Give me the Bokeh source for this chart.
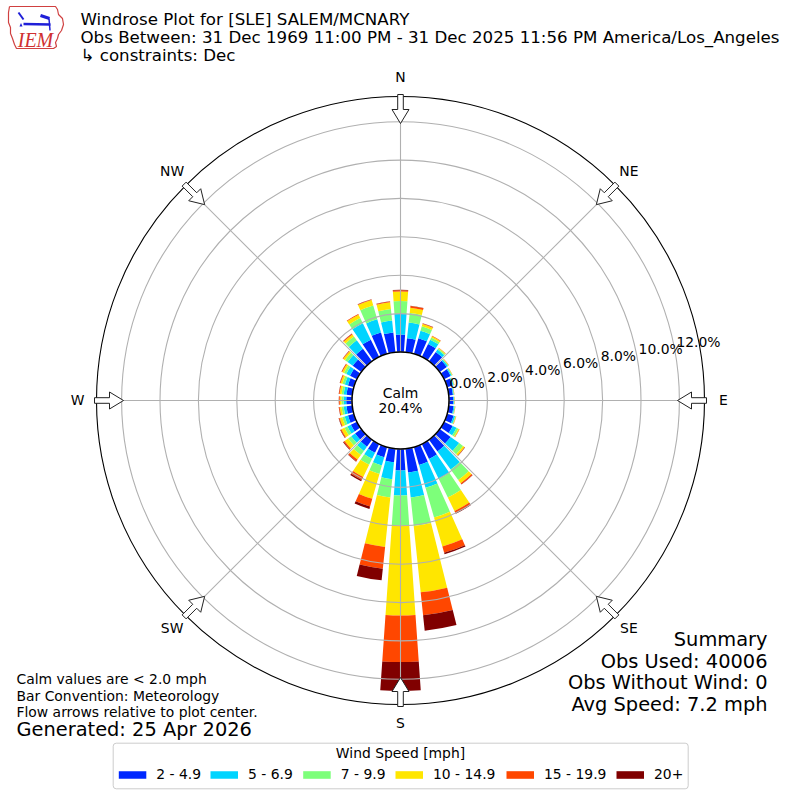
import numpy as np
from bokeh.plotting import figure
from bokeh.models import Range1d, ColumnDataSource
from bokeh.core.properties import value
from bokeh.embed import file_html
from bokeh.resources import INLINE

# ---------------- data ----------------
directions = list(range(0, 360, 10))
bin_labels = ["2 - 4.9", "5 - 6.9", "7 - 9.9", "10 - 14.9", "15 - 19.9", "20+"]
bin_colors = ["#0028ff", "#00d4ff", "#7dff7a", "#ffe600", "#ff4700", "#800000"]

# percent of observations per direction, per speed bin
spd_2_5 = [0.91, 0.73, 0.85, 0.75, 0.60, 0.45, 0.38, 0.30, 0.22, 0.22, 0.25, 0.35,
           0.50, 0.70, 0.75, 0.86, 0.97, 1.24, 1.12, 0.71, 0.55, 0.50, 0.45, 0.40,
           0.35, 0.32, 0.30, 0.30, 0.30, 0.32, 0.40, 0.55, 0.80, 1.00, 1.16, 1.04]
spd_5_7 = [1.08, 0.83, 0.40, 0.25, 0.15, 0.08, 0.06, 0.05, 0.04, 0.04, 0.05, 0.08,
           0.22, 0.55, 1.17, 1.16, 1.23, 1.31, 1.30, 0.89, 0.45, 0.35, 0.27, 0.25,
           0.20, 0.18, 0.15, 0.14, 0.15, 0.17, 0.22, 0.33, 0.55, 0.95, 0.71, 0.62]
spd_7_10 = [0.66, 0.50, 0.25, 0.12, 0.07, 0.04, 0.03, 0.03, 0.02, 0.02, 0.03, 0.04,
            0.11, 0.25, 0.67, 1.08, 1.61, 1.50, 1.56, 0.95, 0.45, 0.35, 0.26, 0.20,
            0.17, 0.13, 0.11, 0.11, 0.11, 0.13, 0.13, 0.17, 0.25, 0.30, 0.75, 0.60]
spd_10_15 = [0.50, 0.27, 0.12, 0.08, 0.04, 0.02, 0.02, 0.01, 0.01, 0.01, 0.01, 0.02,
             0.05, 0.10, 0.21, 0.78, 1.57, 3.47, 4.69, 2.59, 1.35, 0.70, 0.30, 0.22,
             0.18, 0.14, 0.10, 0.09, 0.10, 0.10, 0.10, 0.11, 0.13, 0.20, 0.30, 0.36]
spd_15_20 = [0.07, 0.09, 0.03, 0.02, 0.01, 0.01, 0.01, 0.01, 0.01, 0.01, 0.01, 0.01,
             0.02, 0.02, 0.07, 0.12, 0.34, 1.20, 2.43, 1.14, 0.42, 0.18, 0.10, 0.07,
             0.05, 0.04, 0.04, 0.04, 0.04, 0.04, 0.04, 0.03, 0.04, 0.03, 0.03, 0.04]
spd_20_up = [0.02, 0.02, 0.01, 0.01, 0.00, 0.00, 0.00, 0.00, 0.00, 0.00, 0.00, 0.00,
             0.00, 0.01, 0.01, 0.04, 0.08, 0.81, 1.50, 0.61, 0.13, 0.07, 0.03, 0.03,
             0.02, 0.02, 0.01, 0.01, 0.01, 0.01, 0.01, 0.01, 0.01, 0.01, 0.01, 0.01]
speed_bins = [spd_2_5, spd_5_7, spd_7_10, spd_10_15, spd_15_20, spd_20_up]

calm_pct = 20.4
ring_ticks = [0, 2, 4, 6, 8, 10, 12]
compass_names = ["N", "NE", "E", "SE", "S", "SW", "W", "NW"]
compass_deg = [0, 45, 90, 135, 180, 225, 270, 315]

title_lines = ["Windrose Plot for [SLE] SALEM/MCNARY",
               "Obs Between: 31 Dec 1969 11:00 PM - 31 Dec 2025 11:56 PM America/Los_Angeles",
               " \u21b3 constraints: Dec"]
summary_lines = ["Summary", "Obs Used: 40006", "Obs Without Wind: 0", "Avg Speed: 7.2 mph"]
note_lines = ["Calm values are < 2.0 mph", "Bar Convention: Meteorology",
              "Flow arrows relative to plot center."]
generated = "Generated: 25 Apr 2026"
legend_title = "Wind Speed [mph]"

# ---------------- layout ----------------
S = 19.2            # pixels per percent
R0 = 48.5 / S       # calm circle radius (data units)
ROUT = 304.0 / S    # outer circle
W = 792
FONT = value("DejaVu Sans")


def X(px):
    return (px - 400.0) / S


def Y(py):
    return (400.0 - py) / S


p = figure(width=W, height=W, x_range=Range1d(X(0), X(W)), y_range=Range1d(Y(W), Y(0)),
           x_axis_type=None, y_axis_type=None, output_backend="svg",
           toolbar_location=None, min_border=0, title=None)
p.grid.visible = False
p.outline_line_color = None
p.background_fill_color = "white"
p.border_fill_color = "white"

# ---------------- bars ----------------
theta = np.radians(np.array(directions, dtype=float))
half = np.radians(4.0)
mangle = np.pi / 2 - theta
cum = np.zeros(len(directions))
for vals, col in zip(speed_bins, bin_colors):
    v = np.array(vals, dtype=float)
    src = ColumnDataSource(dict(
        x=np.zeros(len(v)), y=np.zeros(len(v)),
        inner=R0 + cum, outer=R0 + cum + v,
        start=mangle - half, end=mangle + half))
    p.annular_wedge(x="x", y="y", inner_radius="inner", outer_radius="outer",
                    start_angle="start", end_angle="end", source=src,
                    fill_color=col, line_color=None)
    cum = cum + v

# ---------------- grid ----------------
grid_col = "#b0b0b0"
p.circle(x=[0] * len(ring_ticks), y=[0] * len(ring_ticks),
         radius=[R0 + t for t in ring_ticks], fill_color=None,
         line_color=grid_col, line_width=1.1)
ga = np.radians(np.array(compass_deg, dtype=float))
p.segment(x0=R0 * np.sin(ga), y0=R0 * np.cos(ga), x1=ROUT * np.sin(ga),
          y1=ROUT * np.cos(ga), line_color=grid_col, line_width=1.1)

# outer circle & calm circle
p.circle(x=[0], y=[0], radius=[ROUT], fill_color=None, line_color="black", line_width=1.1)
p.circle(x=[0], y=[0], radius=[R0], fill_color="white", line_color="black", line_width=1.5)

# ---------------- arrows ----------------
r_tip, r_base, r_tail = 277.0 / S, 291.0 / S, 306.0 / S
hw, sw = 8.5 / S, 2.8 / S
axs, ays = [], []
for d in compass_deg:
    t = np.radians(d)
    ux, uy = np.sin(t), np.cos(t)
    vx, vy = np.cos(t), -np.sin(t)
    pts = [(r_tip, 0), (r_base, hw), (r_base, sw), (r_tail, sw),
           (r_tail, -sw), (r_base, -sw), (r_base, -hw)]
    axs.append([a * ux + b * vx for a, b in pts])
    ays.append([a * uy + b * vy for a, b in pts])
p.patches(xs=axs, ys=ays, fill_color="white", line_color="#222222", line_width=1)

# ---------------- labels ----------------
def txt(xs, ys, texts, size, align, font=FONT, **kw):
    p.text(x=xs, y=ys, text=texts, text_font=font, text_font_size=size,
           text_align=align, text_baseline="middle", text_color=kw.pop("color", "black"), **kw)


rl = 323.0 / S
txt([rl * np.sin(np.radians(d)) for d in compass_deg],
    [rl * np.cos(np.radians(d)) + 1.0 / S for d in compass_deg],
    compass_names, "13.9px", "center")

ring_r = [48.5 + S * t for t in ring_ticks]
txt([(0.985 * r + 1.2) / S for r in ring_r], [(0.178 * r + 8.4) / S for r in ring_r],
    ["%.1f%%" % t for t in ring_ticks], "13.9px", "left")

txt([0, 0], [Y(392), Y(407)], ["Calm", "%.1f%%" % calm_pct], "13.9px", "center")

# title
txt([X(80)] * 3, [Y(18.5), Y(36.5), Y(54.5)], title_lines, "16.67px", "left")

# summary
txt([X(767)] * 4, [Y(639), Y(660.5), Y(682), Y(704)], summary_lines, "19.4px", "right")

# notes
txt([X(16)] * 3, [Y(678.5), Y(695), Y(711.5)], note_lines, "13.9px", "left")
txt([X(16)], [Y(729)], [generated], "19.4px", "left")

# ---------------- legend ----------------
p.quad(left=[X(112.7)], right=[X(687.7)], top=[Y(742.7)], bottom=[Y(788.3)],
       fill_color="white", line_color="#cccccc", line_width=1, border_radius=3)
txt([0], [Y(752.5)], [legend_title], "13.9px", "center")
patch_left = [118.3, 210.0, 302.7, 395.0, 506.0, 616.0]
p.quad(left=[X(a) for a in patch_left], right=[X(a + 27.5) for a in patch_left],
       top=[Y(770.7)] * 6, bottom=[Y(778.3)] * 6, fill_color=bin_colors,
       line_color=None)
txt([X(a + 37.5) for a in patch_left], [Y(773)] * 6, bin_labels, "13.9px", "left")

# ---------------- logo ----------------
iowa_x = [9, 55, 57, 58, 62, 63, 61, 58, 57, 55, 56, 53, 16, 14, 12, 10, 10, 8, 8, 9]
iowa_y = [6, 6, 9, 14, 18, 24, 30, 34, 38, 42, 46, 48, 48, 44, 38, 33, 27, 22, 12, 6]
p.line(x=[X(a) for a in iowa_x], y=[Y(b) for b in iowa_y],
       line_color="#d04040", line_width=1.2)
p.multi_line(xs=[[X(18), X(23)], [X(23), X(50)], [X(40), X(49)], [X(48.5), X(49.5)]],
             ys=[[Y(12), Y(19)], [Y(23.5), Y(24)], [Y(15), Y(18)], [Y(18), Y(30)]],
             line_color="#1f1fd8", line_width=[2, 2.5, 3, 1.5])
p.patch(x=[X(19), X(22), X(20.5)], y=[Y(26), Y(26), Y(22.5)], fill_color="#1f1fd8",
        line_color=None)
txt([X(35)], [Y(39.5)], ["IEM"], "20px", "center", font=value("Liberation Serif"),
    text_font_style="italic", color="#d03030")

open("out.html", "w").write(file_html(p, INLINE))
